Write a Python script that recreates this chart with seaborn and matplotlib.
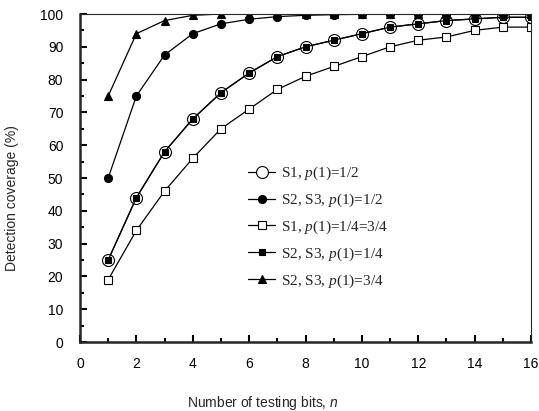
import numpy as np
import matplotlib
matplotlib.use("Agg")
import matplotlib.pyplot as plt
import seaborn as sns

#? Data
bits = list(range(1, 17))
s1_half = [25, 44, 58, 68, 76, 82, 87, 90, 92, 94, 96, 97, 98, 98.5, 99, 99]
s23_half = [50, 75, 87.5, 94, 97, 98.4, 99.2, 99.6, 99.8, 99.9, 100, 100, 100, 100, 100, 100]
s1_quarter = [19, 34, 46, 56, 65, 71, 77, 81, 84, 87, 90, 92, 93, 95, 96, 96]
s23_quarter = [25, 44, 58, 68, 76, 82, 87, 90, 92, 94, 96, 97, 98, 98.5, 99, 99]
s23_three = [75, 94, 98, 99.6, 100, 100, 100, 100, 100, 100, 100, 100, 100, 100, 100, 100]

labels = [
    r"S1, $\mathit{p(1)}$=1/2",
    r"S2, S3, $\mathit{p(1)}$=1/2",
    r"S1, $\mathit{p(1)}$=1/4=3/4",
    r"S2, S3, $\mathit{p(1)}$=1/4",
    r"S2, S3, $\mathit{p(1)}$=3/4",
]

sns.set_style("ticks")
plt.rcParams["font.family"] = ["Liberation Sans", "DejaVu Sans"]
plt.rcParams["mathtext.fontset"] = "custom"
plt.rcParams["mathtext.rm"] = "Liberation Serif"
plt.rcParams["mathtext.it"] = "Liberation Serif:italic"
plt.rcParams["mathtext.sf"] = "Liberation Sans:italic"

fig = plt.figure(figsize=(5.39, 4.11), dpi=100)
ax = fig.add_axes([80 / 539, 69 / 411, 451 / 539, 328 / 411])

styles = [
    (s1_half, dict(marker="o", markersize=8.6, markerfacecolor="white")),
    (s23_half, dict(marker="o", markersize=5.8, markerfacecolor="black")),
    (s1_quarter, dict(marker="s", markersize=5.2, markerfacecolor="white")),
    (s23_quarter, dict(marker="s", markersize=4.0, markerfacecolor="black")),
    (s23_three, dict(marker="^", markersize=6.3, markerfacecolor="black")),
]
for (vals, kw), lab in zip(styles, labels):
    sns.lineplot(x=bits, y=vals, ax=ax, color="black", linewidth=0.9,
                 markeredgecolor="black", markeredgewidth=0.8, label=lab, **kw)

ax.set_xlim(0, 16)
ax.set_ylim(0, 100)
ax.set_xticks(np.arange(0, 17, 2))
ax.set_xticks(np.arange(1, 16, 2), minor=True)
ax.set_yticks(np.arange(0, 101, 10))
ax.set_yticks(np.arange(5, 100, 10), minor=True)
ax.tick_params(which="both", direction="in", width=1.5, labelsize=10, colors="black")
ax.tick_params(which="major", length=5)
ax.tick_params(which="minor", length=3)
ax.tick_params(axis="y", pad=12)
ax.tick_params(axis="x", pad=11)

for side in ["left", "bottom"]:
    ax.spines[side].set_linewidth(1.8)
for side in ["top", "right"]:
    ax.spines[side].set_linewidth(0.8)
    ax.spines[side].set_visible(True)

ax.set_ylabel("Detection coverage (%)", fontsize=10)
ax.yaxis.set_label_coords(-0.135, 0.44)
ax.set_xlabel(r"Number of testing bits, $\mathsf{n}$", fontsize=10)
ax.xaxis.set_label_coords(0.405, -0.16)

#? legend centred on its middle row
leg = ax.legend(loc="center left", bbox_to_anchor=(0.372, 0.35), frameon=False,
                borderpad=0, borderaxespad=0, handlelength=1.8, handletextpad=0.4,
                labelspacing=0.62, prop={"family": "Liberation Serif", "size": 11})

fig.savefig("out.png", dpi=100)
